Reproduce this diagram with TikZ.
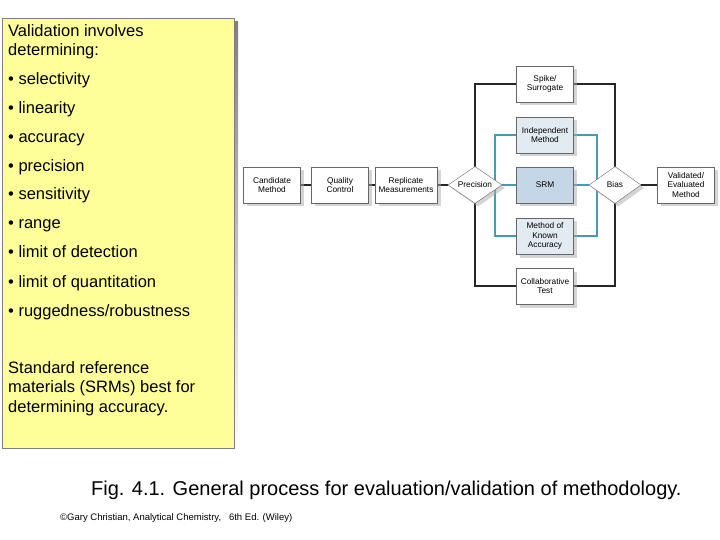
\documentclass[tikz,border=0pt]{standalone}
\usepackage{fontspec}
\setmainfont{Liberation Sans}
\usetikzlibrary{shapes.geometric,backgrounds,shadows}
\definecolor{memo}{RGB}{255,255,153}
\definecolor{shade}{RGB}{170,170,170}
\definecolor{paleblue}{RGB}{226,234,242}
\definecolor{srmblue}{RGB}{197,214,230}
\definecolor{wire}{RGB}{70,155,180}
\tikzset{
  step/.style={draw=black!60, fill=#1, line width=0.4pt, minimum width=57pt, minimum height=36pt,
    align=center, inner sep=1pt, font=\fontsize{8.3}{9.5}\selectfont,
    drop shadow={shadow xshift=3.5pt, shadow yshift=-3.5pt, fill=shade}},
  step/.default=white,
  test/.style={diamond, draw=black!60, fill=white, line width=0.4pt, minimum width=54pt, minimum height=37pt,
    aspect=1.5, inner sep=0pt, font=\fontsize{8.3}{9.5}\selectfont,
    drop shadow={shadow xshift=3pt, shadow yshift=-3pt, fill=shade}},
  item/.style={anchor=base west, inner sep=0pt, font=\fontsize{16.5}{19}\selectfont},
  link/.style={line width=1.6pt, black!85},
  blink/.style={line width=1.4pt, wire}
}
\begin{document}
\begin{tikzpicture}[x=1pt,y=-1pt]
\useasboundingbox (0,0) rectangle (720,540);
% memo panel
\fill[shade] (6,22) rectangle (238,452);
\draw[fill=memo, draw=black!50] (2,18) rectangle (234,448);
\node[item] (t1) at (8,37) {Validation involves};
\node[item] (t2) at (8,56) {determining:};
\node[item] (b1) at (8,85) {• selectivity};
\node[item] (b2) at (8,114) {• linearity};
\node[item] (b3) at (8,143) {• accuracy};
\node[item] (b4) at (8,172) {• precision};
\node[item] (b5) at (8,200) {• sensitivity};
\node[item] (b6) at (8,229) {• range};
\node[item] (b7) at (8,258) {• limit of detection};
\node[item] (b8) at (8,287) {• limit of quantitation};
\node[item] (b9) at (8,316) {• ruggedness/robustness};
\node[item] (s1) at (8,373) {Standard reference};
\node[item] (s2) at (8,392) {materials (SRMs) best for};
\node[item] (s3) at (8,412) {determining accuracy.};
% flow chart
\node[step] (cand) at (272,185) {Candidate\\Method};
\node[step] (qc) at (340,185) {Quality\\Control};
\node[step, minimum width=62pt] (rep) at (406,185) {Replicate\\Measurements};
\node[test] (prec) at (475,185) {Precision};
\node[step] (spike) at (545,84) {Spike/\\Surrogate};
\node[step, fill=paleblue] (indep) at (545,135) {Independent\\Method};
\node[step, fill=srmblue] (srm) at (545,185) {SRM};
\node[step, fill=paleblue] (known) at (545,236) {Method of\\Known\\Accuracy};
\node[step] (collab) at (545,286) {Collaborative\\Test};
\node[test, minimum width=52pt] (bias) at (615,185) {Bias};
\node[step] (valid) at (686,185) {Validated/\\Evaluated\\Method};
\begin{scope}[on background layer]
\draw[link] (cand) -- (qc);
\draw[link] (qc) -- (rep);
\draw[link] (rep) -- (prec);
\draw[link] (bias) -- (valid);
\draw[link] (spike.west) -| (prec.center) |- (collab.west);
\draw[link] (spike.east) -| (bias.center) |- (collab.east);
\draw[blink] (indep.west) -| ([xshift=20pt]prec.center) |- (known.west);
\draw[blink] (indep.east) -| ([xshift=-18pt]bias.center) |- (known.east);
\draw[blink] (prec) -- (srm);
\draw[blink] (srm) -- (bias);
\end{scope}
% caption
\node[anchor=west, inner sep=0pt, font=\fontsize{20}{24}\selectfont] (cap) at (91,490)
  {Fig. 4.1. General process for evaluation/validation of methodology.};
\node[anchor=west, inner sep=0pt, font=\fontsize{9.5}{11}\selectfont] (cred) at (60,518)
  {©Gary Christian, Analytical Chemistry, \ \ 6th Ed. (Wiley)};
\end{tikzpicture}
\end{document}
